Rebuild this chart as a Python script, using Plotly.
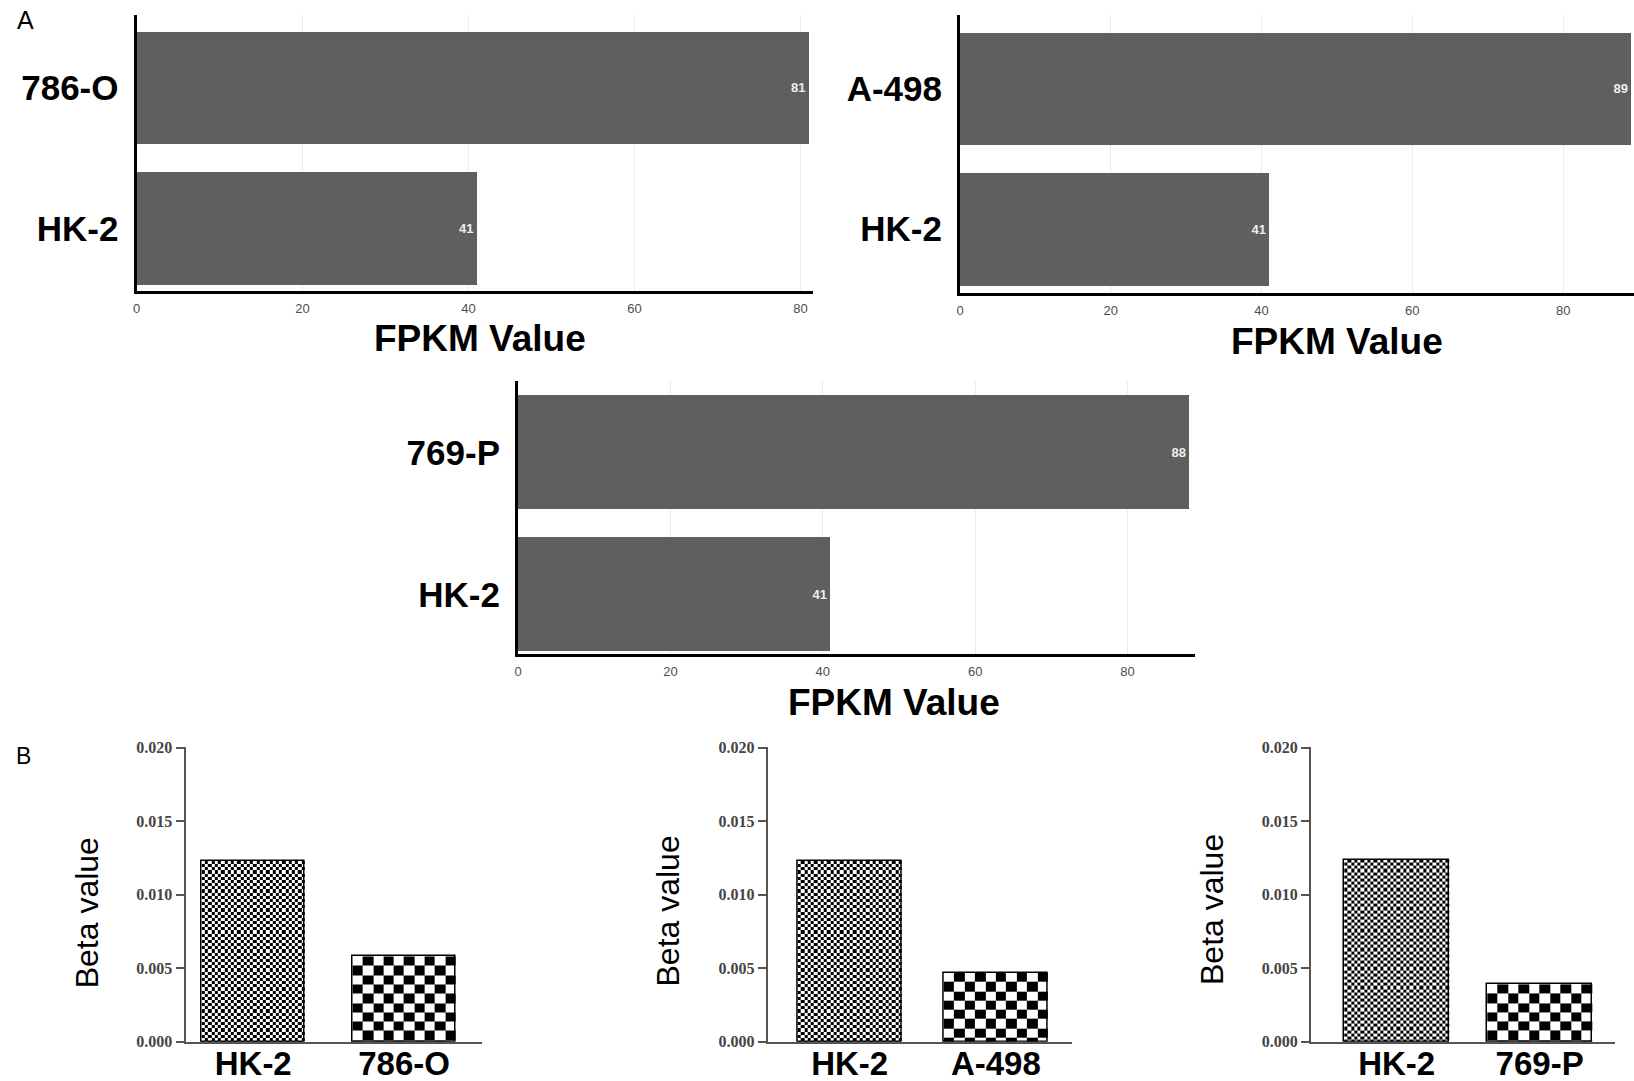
import numpy as np
import plotly.graph_objects as go

# ---------------- data ----------------
# Panel A: FPKM values (horizontal bars)
fpkm_cells = ["786-O", "A-498", "769-P"]
fpkm_tumor = [81, 89, 88]
fpkm_hk2 = [41, 41, 41]
fpkm_ticks = [0, 20, 40, 60, 80]

# Panel B: beta values (vertical bars)
beta_cells = ["786-O", "A-498", "769-P"]
beta_hk2 = [0.0123, 0.0123, 0.0124]
beta_tumor = [0.0058, 0.0047, 0.0039]
beta_ticks = [0.000, 0.005, 0.010, 0.015, 0.020]

# ---------------- layout helpers ----------------
W, H = 1634, 1081
SANS = "Liberation Sans, Arial, Helvetica, sans-serif"
NARROW = "Liberation Sans Narrow, Arial Narrow, Liberation Sans, Arial, sans-serif"
SERIF = "Liberation Serif, Times New Roman, DejaVu Serif, serif"


def dom_x(a, b):
    return [a / W, min(b / W, 1.0)]


def dom_y(top, bottom):
    return [1 - bottom / H, 1 - top / H]


fig = go.Figure()
layout = {}
annotations = []

# Panel A geometry: (x px span, y px span, x max, y range)
a_geom = [
    ((136.5, 813), (14.6, 291), 81.5, [-0.446, 1.519]),
    ((960, 1634), (14.6, 293), 89.4, [-0.453, 1.525]),
    ((518, 1195), (381.4, 654.4), 88.85, [-0.42, 1.5]),
]
a_title_pos = [(480, 338), (1337, 342), (894, 702)]

for i, (cell, tv, hv) in enumerate(zip(fpkm_cells, fpkm_tumor, fpkm_hk2)):
    n = i + 1
    xa = "x" if n == 1 else f"x{n}"
    ya = "y" if n == 1 else f"y{n}"
    (x0, x1), (t, b), xmax, yr = a_geom[i]
    vals = [hv, tv]
    fig.add_trace(go.Bar(
        x=vals, y=[0, 1], orientation="h", width=0.8,
        marker=dict(color="#5f5f5f", line=dict(width=0)),
        text=[str(v) for v in vals], textposition="inside",
        insidetextanchor="end", textangle=0,
        textfont=dict(size=13, color="#eeeeee", family=SANS, weight="bold"),
        xaxis=xa, yaxis=ya, showlegend=False, hoverinfo="x+y",
    ))
    layout[f"xaxis{'' if n == 1 else n}"] = dict(
        domain=dom_x(x0, x1), anchor=ya, range=[0, xmax],
        tickvals=fpkm_ticks, showgrid=True, gridcolor="#ebebeb", gridwidth=1,
        showline=True, linecolor="black", linewidth=3, ticks="",
        tickfont=dict(size=13, color="#4d4d4d", family=SANS),
        zeroline=False, ticklabelstandoff=3, fixedrange=True, automargin=False,
    )
    layout[f"yaxis{'' if n == 1 else n}"] = dict(
        domain=dom_y(t, b), anchor=xa, range=yr,
        tickvals=[0, 1], ticktext=["HK-2", cell],
        showgrid=False, showline=True, linecolor="black", linewidth=3,
        ticks="", zeroline=False, ticklabelstandoff=8,
        tickfont=dict(size=35, color="black", family=SANS, weight="bold"),
        fixedrange=True, automargin=False,
    )
    px, py = a_title_pos[i]
    annotations.append(dict(
        text="FPKM Value", x=px / W, y=1 - py / H, xref="paper", yref="paper",
        xanchor="center", yanchor="middle", showarrow=False,
        font=dict(size=37, color="black", family=SANS, weight="bold"),
    ))


# Panel B geometry
b_geom = [
    ((185.5, 482), [-0.449, 1.517], 0.682),
    ((767.7, 1071.7), [-0.561, 1.519], 0.712),
    ((1311, 1615), [-0.599, 1.527], 0.732),
]
b_ypx = (747, 1041.7)
b_yrange = [0, 0.02006]
b_title_pos = [(87.3, 913), (667.5, 911), (1212, 910)]

FINE_COLS, FINE_H = 32, 0.000215
COARSE_COLS, COARSE_H = 10, 0.000633


def checker(center, width, value, ncols, cell_h, xa, ya):
    xs = np.linspace(center - width / 2, center + width / 2, ncols + 1)
    n_full = int(value // cell_h)
    ys = [value - k * cell_h for k in range(n_full + 1)]
    if ys[-1] > 1e-12:
        ys.append(0.0)
    ys = ys[::-1]
    nrows = len(ys) - 1
    z = [[((nrows - 1 - r) + c) % 2 for c in range(ncols)] for r in range(nrows)]
    return go.Heatmap(
        x=xs, y=ys, z=z, colorscale=[[0, "white"], [1, "black"]],
        zmin=0, zmax=1, showscale=False, zsmooth=False, hoverinfo="skip",
        xaxis=xa, yaxis=ya,
    )


for i, (cell, hv, tv) in enumerate(zip(beta_cells, beta_hk2, beta_tumor)):
    n = i + 4
    xa, ya = f"x{n}", f"y{n}"
    (x0, x1), xr, bw = b_geom[i]
    fig.add_trace(checker(0, bw, hv, FINE_COLS, FINE_H, xa, ya))
    fig.add_trace(checker(1, bw, tv, COARSE_COLS, COARSE_H, xa, ya))
    fig.add_trace(go.Bar(
        x=[0, 1], y=[hv, tv], width=bw,
        marker=dict(color="rgba(0,0,0,0)", line=dict(color="black", width=1.5)),
        xaxis=xa, yaxis=ya, showlegend=False, hoverinfo="y",
    ))
    layout[f"xaxis{n}"] = dict(
        domain=dom_x(x0, x1), anchor=ya, range=xr,
        tickvals=[0, 1], ticktext=["HK-2", cell],
        showgrid=False, zeroline=False, showline=True,
        linecolor="#555555", linewidth=2, ticks="", ticklabelstandoff=-8,
        tickfont=dict(size=33, color="black", family=SANS, weight="bold"),
        fixedrange=True, automargin=False,
    )
    layout[f"yaxis{n}"] = dict(
        domain=dom_y(*b_ypx), anchor=xa, range=b_yrange,
        tickvals=beta_ticks, tickformat=".3f",
        showgrid=False, zeroline=False, showline=True,
        linecolor="#555555", linewidth=2, ticks="outside", ticklen=8,
        tickcolor="#555555", tickwidth=1.5,
        tickfont=dict(size=16, color="#444444", family=SERIF, weight="bold"),
        fixedrange=True, automargin=False,
    )
    px, py = b_title_pos[i]
    annotations.append(dict(
        text="Beta value", x=px / W, y=1 - py / H, xref="paper", yref="paper",
        xanchor="center", yanchor="middle", showarrow=False, textangle=-90,
        font=dict(size=32, color="black", family=NARROW),
    ))

# panel letters
annotations.append(dict(text="A", x=25 / W, y=1 - 20 / H, xref="paper", yref="paper",
                        xanchor="center", yanchor="middle", showarrow=False,
                        font=dict(size=25, color="black", family=SANS)))
annotations.append(dict(text="B", x=23 / W, y=1 - 756 / H, xref="paper", yref="paper",
                        xanchor="center", yanchor="middle", showarrow=False,
                        font=dict(size=23, color="black", family=SANS)))

fig.update_layout(
    width=W, height=H, margin=dict(l=0, r=0, t=0, b=0, autoexpand=False),
    paper_bgcolor="white", plot_bgcolor="white",
    showlegend=False, bargap=0, annotations=annotations, **layout,
)

fig.write_html("out.html", config={"displayModeBar": False})
